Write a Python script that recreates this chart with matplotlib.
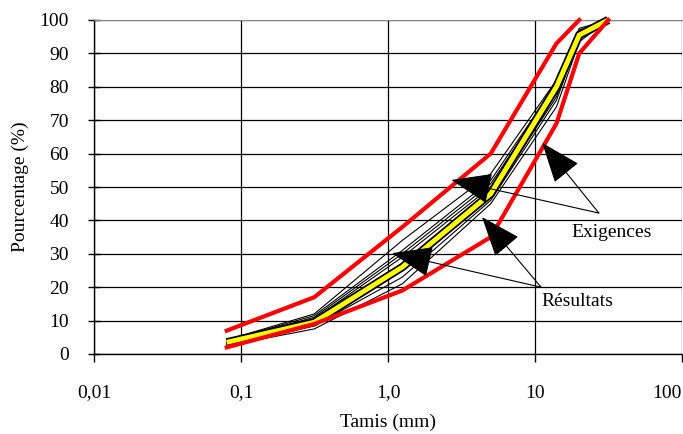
import matplotlib
matplotlib.use("Agg")
import matplotlib.pyplot as plt

# Sieve sizes (mm) and passing percentages
sieves = [0.08, 0.315, 1.25, 5, 14, 20, 31.5]

upper_limit = [7, 17, 38, 60, 93, 100]          # ends at 20 mm
lower_limit = [2, 9, 19, 35, 69, 90, 100]

results = [
    [4.2, 12.0, 34, 54, 82, 97.5, 100],
    [4.0, 11.5, 31, 52, 81, 97, 100],
    [3.8, 11.0, 30, 51, 80, 96.5, 100],
    [3.5, 10.5, 29, 50, 79, 96, 100],
    [3.2, 10.0, 27, 49, 78, 96, 100],
    [3.0, 9.0, 25, 47, 77, 95, 100],
    [2.8, 8.5, 23, 46, 76, 94.5, 100],
    [2.5, 7.5, 21, 45, 74, 93.5, 100],
]
mean_curve = [3.5, 9.5, 26, 48, 80, 95.5, 100]

x_ticks = [0.01, 0.1, 1, 10, 100]
x_labels = ["0,01", "0,1", "1,0", "10", "100"]
y_ticks = list(range(0, 101, 10))

plt.rcParams["font.family"] = ["Liberation Serif", "DejaVu Serif"]

fig = plt.figure(figsize=(6.83, 4.34), dpi=100)
ax = fig.add_axes([94 / 683, 80 / 434, 588 / 683, 334 / 434])

# individual results
for r in results:
    ax.plot(sieves, r, color="black", lw=0.8, zorder=3, clip_on=False)

# highlighted curve: yellow with black border
ax.plot(sieves, mean_curve, color="black", lw=6, zorder=4, clip_on=False,
        solid_joinstyle="miter", solid_capstyle="butt")
ax.plot(sieves, mean_curve, color="#ffff00", lw=3.5, zorder=5, clip_on=False,
        solid_joinstyle="miter", solid_capstyle="butt")

# specification envelope
ax.plot(sieves[:len(upper_limit)], upper_limit, color="#ff0000", lw=3, zorder=6, clip_on=False)
ax.plot(sieves, lower_limit, color="#ff0000", lw=3, zorder=6, clip_on=False)

ax.set_xscale("log")
ax.set_xlim(0.01, 100)
ax.set_ylim(0, 100)
ax.set_xticks(x_ticks)
ax.set_xticklabels(x_labels)
ax.minorticks_off()
ax.set_yticks(y_ticks)

ax.grid(True, color="black", lw=0.9, zorder=1)
ax.set_axisbelow(True)

for side in ["left", "bottom"]:
    ax.spines[side].set_color("black")
    ax.spines[side].set_linewidth(1)
ax.spines["top"].set_color("#888888")
ax.spines["right"].set_visible(False)

ax.tick_params(axis="y", direction="inout", length=8, width=1, pad=14, labelsize=14)
ax.tick_params(axis="x", direction="out", length=6, width=1, pad=16, labelsize=14)
labels = ax.get_xticklabels()
labels[-1].set_horizontalalignment("right")

ax.set_xlabel("Tamis (mm)", fontsize=14, labelpad=9)
ax.set_ylabel("Pourcentage (%)", fontsize=14, labelpad=8)

arrow_kw = dict(arrowstyle="-|>,head_length=1.3,head_width=0.5",
                color="black", lw=0.8, shrinkA=0, shrinkB=0, mutation_scale=20)

# "Exigences" callout
ax.text(33, 36.5, "Exigences", fontsize=14, ha="center", va="center", zorder=8)
for tip in [(11.2, 63.2), (2.7, 52.1)]:
    ax.annotate("", xy=tip, xytext=(27.2, 42.2), arrowprops=arrow_kw, zorder=8)

# "Résultats" callout
ax.text(19.3, 15.6, "Résultats", fontsize=14, ha="center", va="center", zorder=8)
for tip in [(4.36, 41), (1.065, 30.2)]:
    ax.annotate("", xy=tip, xytext=(11, 20), arrowprops=arrow_kw, zorder=8)

fig.savefig("out.png", dpi=100)
